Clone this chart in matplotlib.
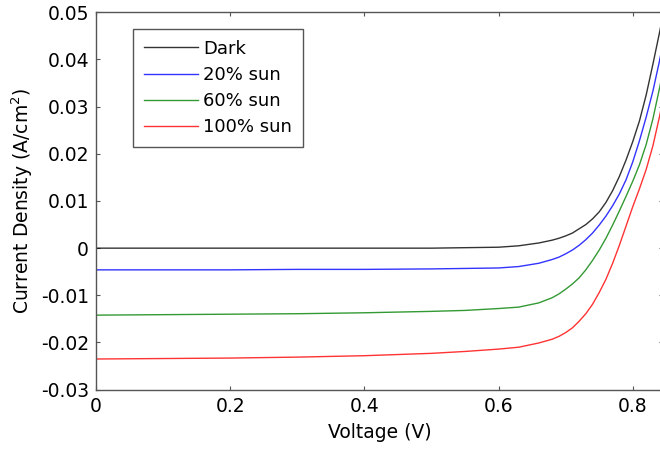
import matplotlib
matplotlib.use("Agg")
import matplotlib.pyplot as plt

plt.rcParams['font.family'] = ['DejaVu Sans']

# J-V curves of the cell under different illumination
voltage = [0.0, 0.1, 0.2, 0.3, 0.4, 0.5, 0.55, 0.6, 0.63, 0.66, 0.68, 0.69, 0.70, 0.71,
           0.72, 0.73, 0.74, 0.75, 0.76, 0.77, 0.78, 0.79, 0.80, 0.81, 0.82, 0.83,
           0.84, 0.845]
dark = [0.0, 0.0, 0.0, 0.0, 0.0, 0.0, 0.0001, 0.0002, 0.0005, 0.0011, 0.0017, 0.0021,
        0.0026, 0.0032, 0.0041, 0.0050, 0.0062, 0.0077, 0.0097, 0.0122, 0.0152, 0.0187,
        0.0226, 0.0270, 0.0325, 0.0390, 0.0458, 0.0495]
sun20 = [-0.0046, -0.0046, -0.0046, -0.0045, -0.0045, -0.0044, -0.0043, -0.0042,
         -0.0039, -0.0032, -0.0024, -0.0019, -0.0012, -0.0004, 0.0006, 0.0018, 0.0032,
         0.0049, 0.0068, 0.0090, 0.0115, 0.0145, 0.0183, 0.0228, 0.0278, 0.0333,
         0.0398, 0.0435]
sun60 = [-0.0142, -0.0141, -0.0140, -0.0139, -0.0137, -0.0134, -0.0132, -0.0128,
         -0.0125, -0.0116, -0.0105, -0.0097, -0.0087, -0.0076, -0.0063, -0.0046, -0.0026,
         -0.0004, 0.0021, 0.0049, 0.0079, 0.0110, 0.0142, 0.0177, 0.0220, 0.0274,
         0.0340, 0.0375]
sun100 = [-0.0235, -0.0234, -0.0233, -0.0231, -0.0228, -0.0223, -0.0219, -0.0214,
          -0.0210, -0.0201, -0.0193, -0.0187, -0.0179, -0.0169, -0.0155, -0.0139, -0.0119,
          -0.0094, -0.0066, -0.0032, 0.0006, 0.0047, 0.0088, 0.0126, 0.0167, 0.0217,
          0.0280, 0.0315]

labels = ['Dark', '20% sun', '60% sun', '100% sun']
colors = ['#000000', '#0000ff', '#008000', '#ff0000']

xticks = [0, 0.2, 0.4, 0.6, 0.8]
xtick_labels = ['0', '0.2', '0.4', '0.6', '0.8']
yticks = [-0.03, -0.02, -0.01, 0, 0.01, 0.02, 0.03, 0.04, 0.05]
ytick_labels = ['-0.03', '-0.02', '-0.01', '0', '0.01', '0.02', '0.03', '0.04', '0.05']

fig = plt.figure(figsize=(6.6, 4.51), dpi=100)
ax = fig.add_axes([0.1455, 0.136, 1.0045 - 0.1455, 0.9727 - 0.136])

for series, label, color in zip([dark, sun20, sun60, sun100], labels, colors):
    ax.plot(voltage, series, color=color, lw=1.0, alpha=0.8, label=label)

ax.set_xlim(0, 0.845)
ax.set_ylim(-0.03, 0.05)
ax.set_xticks(xticks)
ax.set_xticklabels(xtick_labels)
ax.set_yticks(yticks)
ax.set_yticklabels(ytick_labels)
ax.tick_params(direction='in', length=3, width=0.8, color='#555555',
               top=True, right=True, labelsize=13.5, pad=5)

for spine in ax.spines.values():
    spine.set_color('#555555')
    spine.set_linewidth(1.0)

ax.set_xlabel('Voltage (V)', fontsize=13.5, labelpad=5)
ax.set_ylabel('Current Density (A/cm$^2$)', fontsize=13.5, labelpad=4)

leg = ax.legend(loc='upper left', bbox_to_anchor=(0.065, 0.956), fontsize=13,
                frameon=True, fancybox=False, framealpha=1, edgecolor='#555555',
                handlelength=3.0, handletextpad=0.3, labelspacing=0.45,
                borderpad=0.6, borderaxespad=0)
leg.get_frame().set_linewidth(1.0)

fig.savefig('out.png', dpi=100)
